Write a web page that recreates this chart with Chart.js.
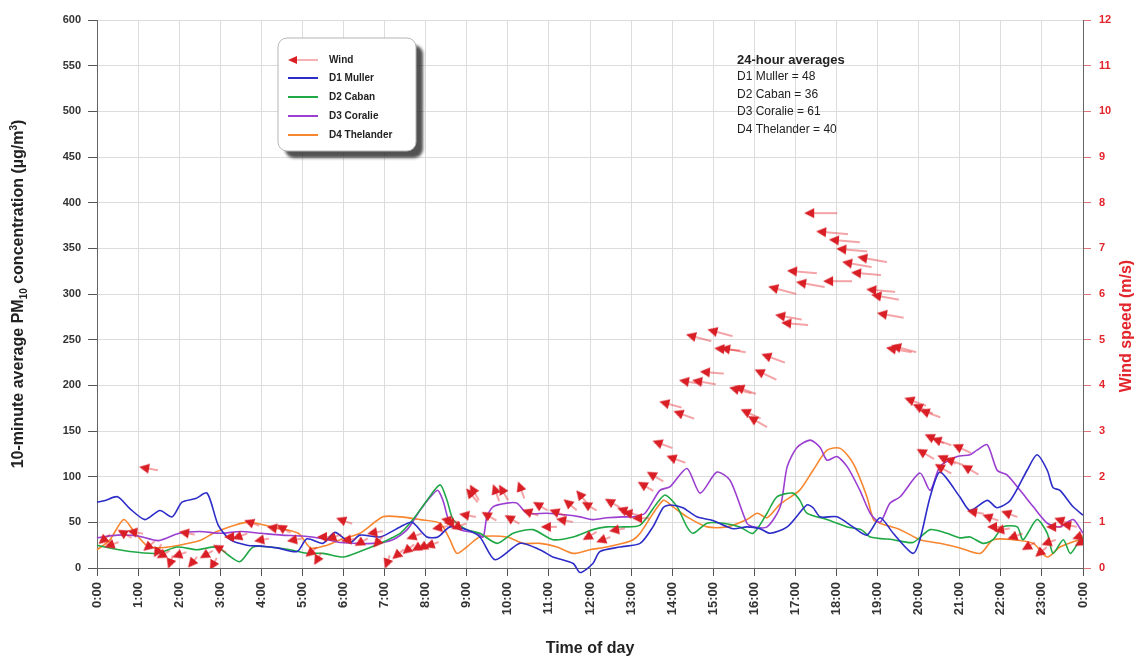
<!DOCTYPE html>
<html>
<head>
<meta charset="utf-8">
<title>10-minute PM10 and wind speed</title>
<script src="https://cdn.jsdelivr.net/npm/chart.js@4.4.1/dist/chart.umd.min.js"></script>
<style>
    body { margin: 0; background: #fff; }
    #wrap { width: 1145px; height: 661px; }
</style>
</head>
<body>
<div id="wrap"><canvas id="pmChart" width="1145" height="661"></canvas></div>
<script>
// time of day in hours, value in ug/m3
var d1Muller = [[0,72],[0.2,74],[0.5,78],[0.8,65],[1.17,53],[1.53,63],[1.83,56],[2.07,72],[2.4,76],[2.68,82],
    [2.95,47],[3.24,31],[3.65,25],[4.0,24],[4.38,22],[4.87,18],[5.11,32],[5.5,27],[5.79,39],[6.16,28],
    [6.4,36],[6.89,34],[7.38,45],[7.67,50],[8.03,34],[8.3,34],[8.59,45],[9.0,42],[9.32,34],[9.69,9],
    [10.3,27],[10.78,20],[11.1,12],[11.59,5],[11.76,-5],[12.07,5],[12.24,18],[12.73,23],[13.22,27],[13.53,45],
    [13.78,66],[13.95,69],[14.26,66],[14.6,56],[14.99,52],[15.48,43],[15.82,45],[16.14,43],[16.38,38],[16.8,45],
    [17.28,69],[17.43,66],[17.6,56],[18.01,56],[18.4,45],[18.74,36],[19.06,55],[19.38,38],[19.86,16],[20.03,31],
    [20.28,78],[20.52,105],[21.0,78],[21.25,63],[21.67,74],[21.91,66],[22.23,74],[22.64,107],[22.88,124],[23.13,107],
    [23.27,88],[23.44,85],[23.76,67],[24,58]];

var d2Caban = [[0,25],[0.19,23],[0.8,18],[1.46,16],[1.95,23],[2.43,20],[2.92,23],[3.2,14],[3.48,7],[3.8,23],
    [4.21,23],[4.7,20],[5.11,16],[5.5,16],[5.99,12],[6.4,18],[6.89,27],[7.38,38],[7.69,53],[8.03,74],
    [8.35,91],[8.52,74],[8.67,53],[9.0,42],[9.32,38],[9.74,27],[10.13,38],[10.61,42],[11.1,31],[11.59,34],
    [12.07,42],[12.41,45],[12.8,45],[13.22,47],[13.63,71],[13.83,80],[14.12,67],[14.36,45],[14.51,38],[14.85,49],
    [15.24,49],[15.65,45],[15.97,38],[16.31,60],[16.55,78],[16.94,82],[17.11,74],[17.28,60],[17.77,53],[18.26,45],
    [18.6,42],[18.82,34],[19.38,31],[19.86,28],[20.28,42],[20.69,38],[21.0,33],[21.25,34],[21.57,27],[21.81,31],
    [22.05,45],[22.4,45],[22.54,31],[22.88,53],[23.13,38],[23.27,16],[23.52,31],[23.69,16],[23.93,31],[24,34]];

var d3Coralie = [[0,33],[0.5,36],[1.0,35],[1.5,30],[2.0,38],[2.5,40],[3.0,38],[3.5,40],[4.0,38],[4.5,36],
    [5.0,35],[5.5,32],[5.92,28],[6.72,27],[7.2,31],[7.55,42],[7.86,63],[8.28,85],[8.42,74],[8.59,49],
    [8.84,42],[9.25,38],[9.4,34],[9.49,56],[9.64,67],[9.98,71],[10.22,71],[10.47,60],[10.95,60],[11.44,58],
    [11.76,56],[12.07,53],[12.41,55],[12.8,56],[13.05,56],[13.34,60],[13.7,85],[13.95,89],[14.36,109],[14.68,82],
    [15.09,105],[15.41,96],[15.82,49],[15.97,45],[16.31,45],[16.63,67],[16.8,111],[17.04,132],[17.36,140],[17.6,132],
    [17.77,118],[18.01,122],[18.26,111],[18.57,85],[18.82,60],[19.06,50],[19.3,71],[19.55,78],[20.03,104],[20.28,85],
    [20.52,111],[20.94,122],[21.25,124],[21.42,129],[21.67,135],[21.91,107],[22.15,102],[22.47,85],[22.79,67],[23.13,49],
    [23.44,45],[23.76,53],[24,38]];

var d4Thelander = [[0,20],[0.3,30],[0.65,53],[0.9,40],[1.2,25],[1.5,22],[2.0,25],[2.5,30],[2.92,40],[3.65,50],
    [4.27,45],[4.9,38],[5.2,22],[5.6,25],[5.92,31],[6.4,38],[6.96,56],[7.38,56],[7.86,53],[8.35,49],
    [8.59,31],[8.76,16],[9.0,23],[9.32,34],[9.98,34],[10.37,27],[10.78,27],[11.2,23],[11.59,16],[12.0,20],
    [12.41,23],[12.8,27],[13.05,31],[13.22,38],[13.78,74],[14.02,67],[14.36,56],[14.85,45],[15.34,45],[15.82,53],
    [16.07,60],[16.31,55],[16.63,70],[17.1,85],[17.43,107],[17.77,129],[18.09,131],[18.4,115],[18.74,78],[18.9,53],
    [19.06,49],[19.55,42],[20.03,31],[20.52,27],[21.0,22],[21.5,16],[21.81,31],[22.3,31],[22.79,27],[23.13,12],
    [23.44,23],[23.93,31],[24,30]];

// wind: [hour, speed m/s, arrow direction in degrees (0 = up, 270 = left)]
var windObs = [[0.15,0.61,230],[0.32,0.5,250],[0.63,0.77,300],[0.88,0.79,280],[1.17,2.19,280],[1.24,0.46,230],
    [1.46,0.35,210],[1.58,0.28,240],[1.78,0.11,200],[1.97,0.28,250],[2.14,0.77,280],[2.31,0.11,220],[2.63,0.28,240],
    [2.82,0.07,210],[2.95,0.44,300],[3.24,0.68,270],[3.43,0.68,250],[3.72,1.0,290],[3.97,0.61,260],[4.28,0.88,280],
    [4.5,0.88,300],[4.77,0.61,260],[5.19,0.33,230],[5.36,0.18,210],[5.5,0.68,270],[5.72,0.66,250],[5.96,1.05,290],
    [6.09,0.61,260],[6.4,0.55,240],[6.72,0.77,260],[6.82,0.55,220],[7.06,0.11,200],[7.3,0.28,230],[7.55,0.39,230],
    [7.67,0.68,250],[7.79,0.44,240],[7.94,0.46,240],[8.11,0.5,250],[8.3,0.88,260],[8.52,1.05,280],[8.59,0.99,270],
    [8.76,0.9,250],[8.96,1.16,280],[9.08,1.64,320],[9.15,1.71,330],[9.49,1.16,300],[9.69,1.71,340],[9.86,1.71,330],
    [10.05,1.09,300],[10.3,1.77,340],[10.49,1.23,290],[10.74,1.38,300],[10.95,0.9,270],[11.15,1.23,290],[11.32,1.05,280],
    [11.47,1.42,310],[11.76,1.6,320],[11.93,1.38,300],[11.95,0.68,240],[12.29,0.61,250],[12.49,1.45,300],[12.61,0.83,260],
    [12.8,1.27,290],[12.93,1.2,280],[13.17,1.09,270],[13.29,1.82,300],[13.51,2.04,300],[13.66,2.74,290],[13.83,3.61,285],
    [14.0,2.41,290],[14.17,3.39,290],[14.31,4.09,280],[14.48,5.08,285],[14.63,4.09,280],[14.82,4.29,275],[15.0,5.19,285],
    [15.17,4.8,275],[15.31,4.8,280],[15.53,3.92,285],[15.65,3.94,290],[15.8,3.42,295],[15.97,3.26,300],[16.14,4.29,295],
    [16.31,4.64,290],[16.48,6.13,285],[16.65,5.52,280],[16.8,5.36,275],[16.94,6.5,275],[17.16,6.24,280],[17.36,7.77,270],
    [17.65,7.36,275],[17.82,6.28,270],[17.96,7.18,275],[18.14,6.98,275],[18.28,6.68,280],[18.5,6.46,275],[18.65,6.79,280],
    [18.87,6.09,275],[18.99,5.96,280],[19.13,5.56,280],[19.35,4.8,280],[19.47,4.84,285],[19.79,3.68,290],[19.99,3.53,295],
    [20.08,2.54,300],[20.16,3.42,290],[20.28,2.87,295],[20.45,2.8,290],[20.52,2.21,300],[20.59,2.41,295],[20.76,2.36,290],
    [20.96,2.65,295],[21.18,2.19,300],[21.32,1.23,280],[21.69,1.12,290],[21.81,0.9,270],[21.98,0.83,260],[22.15,1.2,290],
    [22.3,0.68,250],[22.64,0.46,240],[22.95,0.33,230],[23.13,0.55,250],[23.25,0.9,270],[23.44,1.05,290],[23.61,0.94,280],
    [23.88,0.68,250],[23.93,0.55,240]];

var timeLabels = ['0:00','1:00','2:00','3:00','4:00','5:00','6:00','7:00','8:00','9:00','10:00','11:00','12:00',
    '13:00','14:00','15:00','16:00','17:00','18:00','19:00','20:00','21:00','22:00','23:00','0:00'];

var siteNames = ['D1 Muller', 'D2 Caban', 'D3 Coralie', 'D4 Thelander'];
var siteAverages = [48, 36, 61, 40];

var windColor = '#e3242b';
var siteColors = ['#2c2cc8', '#1fa846', '#9b3fd0', '#f7862f'];
var fontFamily = "'Liberation Sans', Arial, sans-serif";

var arrowCache = {};
function arrowImage(speed) {
    var tail = Math.round(4 + speed * 2.4);
    if (arrowCache[tail]) return arrowCache[tail];
    var half = tail + 7;
    var c = document.createElement('canvas');
    c.width = half * 2;
    c.height = half * 2;
    var g = c.getContext('2d');
    g.strokeStyle = 'rgba(227,36,43,0.7)';
    g.lineWidth = 1.2;
    g.beginPath();
    g.moveTo(half, half + 3);
    g.lineTo(half, half + 4 + tail);
    g.stroke();
    g.fillStyle = '#d91e26';
    g.beginPath();
    g.moveTo(half, half - 6);
    g.lineTo(half + 5, half + 4);
    g.lineTo(half - 5, half + 4);
    g.closePath();
    g.fill();
    arrowCache[tail] = c;
    return c;
}

function toPoints(list) {
    return list.map(function(p) { return {x: p[0], y: p[1]}; });
}

function lineSet(label, list, color) {
    return {
        type: 'line',
        label: label,
        data: toPoints(list),
        borderColor: color,
        backgroundColor: color,
        borderWidth: 1.6,
        pointRadius: 0,
        tension: 0.25,
        fill: false,
        clip: false,
        yAxisID: 'y'
    };
}

// titles, legend box and the averages note
var textPlugin = {
    id: 'textPlugin',
    afterDraw: function(chart) {
        var ctx = chart.ctx;
        var area = chart.chartArea;
        var midY = (area.top + area.bottom) / 2;

        // left axis title with PM10 subscript and m3 superscript
        var parts = [['10-minute average PM', 16, 0], ['10', 10, 5], [' concentration (\u00b5g/m', 16, 0], ['3', 10, -5], [')', 16, 0]];
        ctx.save();
        ctx.translate(19, midY);
        ctx.rotate(-Math.PI / 2);
        ctx.fillStyle = '#222';
        ctx.textBaseline = 'middle';
        ctx.textAlign = 'left';
        var total = 0;
        parts.forEach(function(p) {
            ctx.font = 'bold ' + p[1] + 'px ' + fontFamily;
            total += ctx.measureText(p[0]).width;
        });
        var px = -total / 2;
        parts.forEach(function(p) {
            ctx.font = 'bold ' + p[1] + 'px ' + fontFamily;
            ctx.fillText(p[0], px, p[2]);
            px += ctx.measureText(p[0]).width;
        });
        ctx.restore();

        // right axis title
        ctx.save();
        ctx.translate(1127, 326);
        ctx.rotate(-Math.PI / 2);
        ctx.fillStyle = windColor;
        ctx.font = 'bold 16px ' + fontFamily;
        ctx.textAlign = 'center';
        ctx.textBaseline = 'middle';
        ctx.fillText('Wind speed (m/s)', 0, 0);
        ctx.restore();

        // x axis title
        ctx.save();
        ctx.fillStyle = '#222';
        ctx.font = 'bold 16px ' + fontFamily;
        ctx.textAlign = 'center';
        ctx.textBaseline = 'middle';
        ctx.fillText('Time of day', (area.left + area.right) / 2, 649);
        ctx.restore();

        // 24-hour averages note
        ctx.save();
        ctx.fillStyle = '#222';
        ctx.textAlign = 'left';
        ctx.textBaseline = 'middle';
        ctx.font = 'bold 13px ' + fontFamily;
        ctx.fillText('24-hour averages', 737, 60);
        ctx.font = '12px ' + fontFamily;
        for (var i = 0; i < siteNames.length; i++) {
            ctx.fillText(siteNames[i] + ' = ' + siteAverages[i], 737, 77 + i * 17.5);
        }
        ctx.restore();

        // legend box with shadow
        var bx = 278, by = 38, bw = 138, bh = 113, r = 9;
        ctx.save();
        ctx.beginPath();
        ctx.moveTo(bx + r, by);
        ctx.arcTo(bx + bw, by, bx + bw, by + bh, r);
        ctx.arcTo(bx + bw, by + bh, bx, by + bh, r);
        ctx.arcTo(bx, by + bh, bx, by, r);
        ctx.arcTo(bx, by, bx + bw, by, r);
        ctx.closePath();
        ctx.shadowColor = 'rgba(40,40,40,0.8)';
        ctx.shadowOffsetX = 7;
        ctx.shadowOffsetY = 7;
        ctx.shadowBlur = 3;
        ctx.fillStyle = '#fff';
        ctx.fill();
        ctx.shadowColor = 'transparent';
        ctx.strokeStyle = '#b5b5b5';
        ctx.lineWidth = 1;
        ctx.stroke();

        var rows = [60, 78, 97, 116, 135];
        chart.data.datasets.forEach(function(ds, k) {
            var y = rows[k];
            if (k === 0) {
                ctx.strokeStyle = 'rgba(227,36,43,0.6)';
                ctx.lineWidth = 1.2;
                ctx.beginPath();
                ctx.moveTo(290, y);
                ctx.lineTo(318, y);
                ctx.stroke();
                ctx.fillStyle = '#d91e26';
                ctx.beginPath();
                ctx.moveTo(288, y);
                ctx.lineTo(297, y - 4);
                ctx.lineTo(297, y + 4);
                ctx.closePath();
                ctx.fill();
            } else {
                ctx.strokeStyle = ds.borderColor;
                ctx.lineWidth = 2;
                ctx.beginPath();
                ctx.moveTo(288, y);
                ctx.lineTo(318, y);
                ctx.stroke();
            }
            ctx.fillStyle = '#222';
            ctx.font = 'bold 10px ' + fontFamily;
            ctx.textAlign = 'left';
            ctx.textBaseline = 'middle';
            ctx.fillText(ds.label, 329, y);
        });
        ctx.restore();
    }
};

var datasets = [{
    type: 'scatter',
    label: 'Wind',
    data: windObs.map(function(w) { return {x: w[0], y: w[1]}; }),
    yAxisID: 'yWind',
    showLine: false,
    pointRadius: 4,
    pointStyle: function(c) { return arrowImage(windObs[c.dataIndex][1]); },
    rotation: function(c) { return windObs[c.dataIndex][2]; },
    borderColor: windColor,
    backgroundColor: windColor
}];
datasets.push(lineSet(siteNames[0], d1Muller, siteColors[0]));
datasets.push(lineSet(siteNames[1], d2Caban, siteColors[1]));
datasets.push(lineSet(siteNames[2], d3Coralie, siteColors[2]));
datasets.push(lineSet(siteNames[3], d4Thelander, siteColors[3]));

var chart = new Chart(document.getElementById('pmChart'), {
    type: 'line',
    data: { datasets: datasets },
    options: {
        responsive: false,
        animation: false,
        devicePixelRatio: 1,
        layout: { padding: { top: 20, left: 0, right: 0, bottom: 0 } },
        plugins: {
            legend: { display: false },
            tooltip: { enabled: false }
        },
        scales: {
            x: {
                type: 'linear',
                min: 0,
                max: 24,
                afterFit: function(s) { s.height = 93; },
                grid: { color: '#dcdcdc', tickColor: '#555', tickLength: 8 },
                border: { color: '#666', width: 1 },
                ticks: {
                    stepSize: 1,
                    autoSkip: false,
                    minRotation: 90,
                    maxRotation: 90,
                    padding: 6,
                    color: '#333',
                    font: { family: fontFamily, size: 13, weight: 'bold' },
                    callback: function(v) { return timeLabels[v]; }
                }
            },
            y: {
                position: 'left',
                min: 0,
                max: 600,
                afterFit: function(s) { s.width = 97; },
                grid: { color: '#dcdcdc', tickColor: '#555', tickLength: 9 },
                border: { color: '#666', width: 1 },
                ticks: {
                    stepSize: 50,
                    padding: 7,
                    color: '#333',
                    font: { family: fontFamily, size: 11, weight: 'bold' }
                }
            },
            yWind: {
                position: 'right',
                min: 0,
                max: 12,
                afterFit: function(s) { s.width = 62; },
                grid: { drawOnChartArea: false, tickColor: '#d77', tickLength: 8 },
                border: { color: '#666', width: 1 },
                ticks: {
                    stepSize: 1,
                    padding: 8,
                    color: windColor,
                    font: { family: fontFamily, size: 11, weight: 'bold' }
                }
            }
        }
    },
    plugins: [textPlugin]
});
</script>
</body>
</html>
